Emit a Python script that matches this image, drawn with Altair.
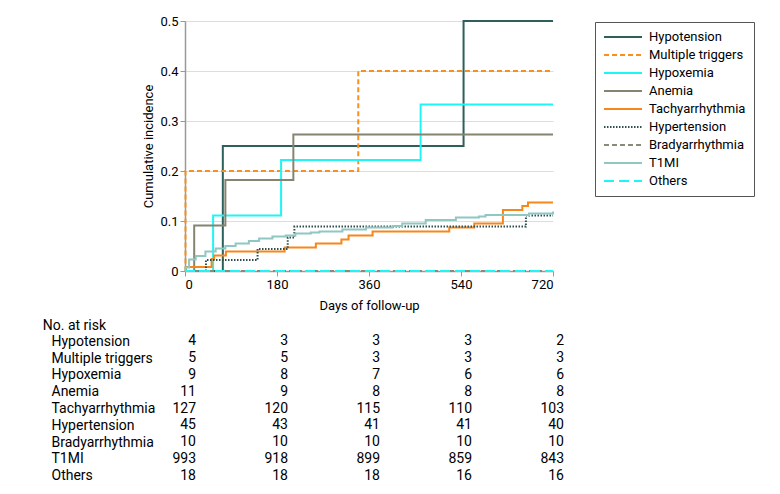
import altair as alt
import pandas as pd

series = ["Hypotension", "Multiple triggers", "Hypoxemia", "Anemia", "Tachyarrhythmia",
          "Hypertension", "Bradyarrhythmia", "T1MI", "Others"]
colors = ["#2d5f5d", "#f7901e", "#1ff5f5", "#858470", "#f7861b",
          "#2f4f4f", "#8a8a78", "#8fc7c3", "#1ff5f5"]
dashes = [[1, 0], [5, 3], [1, 0], [1, 0], [1, 0], [1.5, 1.5], [5, 3], [1, 0], [10, 5]]

hypo_days = [0, 74, 545, 720]
hypo_vals = [0, 0.25, 0.5, 0.5]
multi_days = [0, 1, 339, 720]
multi_vals = [0, 0.2, 0.4, 0.4]
hypox_days = [0, 55, 188, 461, 720]
hypox_vals = [0, 0.111, 0.222, 0.333, 0.333]
anemia_days = [0, 18, 79, 212, 720]
anemia_vals = [0, 0.091, 0.182, 0.273, 0.273]
tachy_days = [0, 2, 52, 57, 80, 195, 256, 306, 320, 367, 517, 566, 622, 660, 671, 720]
tachy_vals = [0, 0.008, 0.024, 0.031, 0.039, 0.047, 0.055, 0.063, 0.071, 0.079,
              0.087, 0.095, 0.122, 0.130, 0.137, 0.137]
hyper_days = [0, 41, 142, 201, 214, 667, 720]
hyper_vals = [0, 0.022, 0.044, 0.067, 0.089, 0.111, 0.111]
brady_days = [0, 720]
brady_vals = [0, 0]
t1mi_days = [0, 1, 8, 21, 40, 60, 79, 99, 125, 145, 171, 197, 216, 246, 263, 308,
             354, 406, 425, 471, 530, 575, 588, 673, 720]
t1mi_vals = [0, 0.007, 0.023, 0.030, 0.039, 0.045, 0.050, 0.055, 0.060, 0.065, 0.069,
             0.071, 0.075, 0.077, 0.079, 0.083, 0.087, 0.090, 0.095, 0.102, 0.107,
             0.109, 0.112, 0.115, 0.119]
others_days = [0, 720]
others_vals = [0, 0]

risk_days = [0, 180, 360, 540, 720]
risk_counts = {
    "Hypotension": [4, 3, 3, 3, 2],
    "Multiple triggers": [5, 5, 3, 3, 3],
    "Hypoxemia": [9, 8, 7, 6, 6],
    "Anemia": [11, 9, 8, 8, 8],
    "Tachyarrhythmia": [127, 120, 115, 110, 103],
    "Hypertension": [45, 43, 41, 41, 40],
    "Bradyarrhythmia": [10, 10, 10, 10, 10],
    "T1MI": [993, 918, 899, 859, 843],
    "Others": [18, 18, 18, 16, 16],
}

curves = [
    ("Hypotension", hypo_days, hypo_vals),
    ("Multiple triggers", multi_days, multi_vals),
    ("Hypoxemia", hypox_days, hypox_vals),
    ("Anemia", anemia_days, anemia_vals),
    ("Tachyarrhythmia", tachy_days, tachy_vals),
    ("Hypertension", hyper_days, hyper_vals),
    ("Bradyarrhythmia", brady_days, brady_vals),
    ("T1MI", t1mi_days, t1mi_vals),
    ("Others", others_days, others_vals),
]
rows = []
for name, ds, vs in curves:
    for d, v in zip(ds, vs):
        rows.append({"series": name, "day": d, "value": v, "k": series.index(name)})
df = pd.DataFrame(rows)

risk_rows = []
for name in series:
    for d, n in zip(risk_days, risk_counts[name]):
        risk_rows.append({"series": name, "day": d, "n": n})
risk_df = pd.DataFrame(risk_rows)

FONT = "Roboto"

legend_kw = dict(
    orient="none", legendX=410, legendY=1, title=None, symbolType="stroke",
    symbolSize=1444, symbolStrokeWidth=2, labelFontSize=13, labelColor="black",
    labelFont=FONT, strokeColor="#555555", padding=8, rowPadding=4, labelOffset=6,
    fillColor="white", clipHeight=14,
)

lines = alt.Chart(df).mark_line(interpolate="step-after", strokeWidth=2).encode(
    x=alt.X("day:Q", scale=alt.Scale(domain=[0, 720], nice=False),
            axis=alt.Axis(values=risk_days, title="Days of follow-up", grid=False,
                          titlePadding=8)),
    y=alt.Y("value:Q", scale=alt.Scale(domain=[0, 0.5], nice=False),
            axis=alt.Axis(values=[0, 0.1, 0.2, 0.3, 0.4, 0.5], format="~g",
                          title="Cumulative incidence", grid=True, gridColor="#dddddd")),
    color=alt.Color("series:N", scale=alt.Scale(domain=series, range=colors),
                    legend=alt.Legend(**legend_kw)),
    strokeDash=alt.StrokeDash("series:N", scale=alt.Scale(domain=series, range=dashes),
                              legend=alt.Legend(**legend_kw)),
    order=alt.Order("k:Q"),
).properties(width=368, height=250)

table = alt.Chart(risk_df).mark_text(align="right", dx=11, fontSize=14, color="black",
                                    font=FONT).encode(
    x=alt.X("day:Q", scale=alt.Scale(domain=[0, 720], nice=False), axis=None),
    y=alt.Y("series:N", sort=series,
            axis=alt.Axis(title="No. at risk", titleAngle=0, titleX=-142.7, titleY=-8,
                          titleAlign="left", titleBaseline="middle", titleFontWeight="normal",
                          titleFontSize=14, labelAlign="left", labelPadding=134,
                          labelFontSize=14, ticks=False, domain=False, labelColor="black",
                          titleColor="black", grid=False)),
    text="n:Q",
).properties(width=368, height=151)

chart = alt.vconcat(lines, table, spacing=6).properties(
    padding={"left": 34, "top": 7, "right": 5, "bottom": 5}
).configure(font=FONT).configure_view(stroke=None).configure_axis(
    labelFontSize=13, titleFontSize=13, labelColor="black", titleColor="black",
    titleFontWeight="normal", domainColor="#999999", tickColor="#999999", tickSize=5,
    labelFont=FONT, titleFont=FONT, domainWidth=1.5,
)

chart.save("out.html", embed_options={"renderer": "svg", "actions": False})
